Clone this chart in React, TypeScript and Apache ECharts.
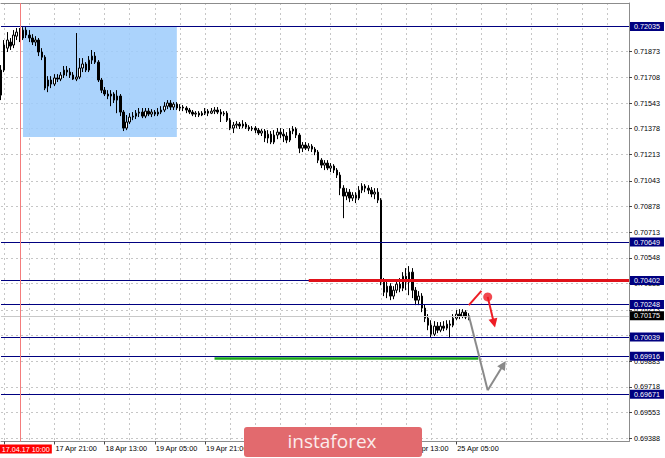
import { useEffect, useRef } from "react";
import * as echarts from "echarts";

// Hourly bars, [open, close, low, high]
const candles: number[][] = [
  [0.71594, 0.71755, 0.71562, 0.71787],
  [0.71755, 0.71916, 0.71742, 0.71948],
  [0.71896, 0.71948, 0.71871, 0.71999],
  [0.71935, 0.71909, 0.71884, 0.71961],
  [0.71916, 0.7198, 0.71896, 0.72012],
  [0.71973, 0.71999, 0.71948, 0.72025],
  [0.71999, 0.71961, 0.71935, 0.72025],
  [0.71961, 0.72012, 0.71948, 0.72031],
  [0.72012, 0.7198, 0.71961, 0.72031],
  [0.7198, 0.71961, 0.71935, 0.72012],
  [0.71961, 0.71935, 0.71916, 0.71986],
  [0.71935, 0.71948, 0.71909, 0.71973],
  [0.71948, 0.71871, 0.71845, 0.71961],
  [0.71871, 0.71838, 0.71819, 0.71896],
  [0.71838, 0.71639, 0.71626, 0.71851],
  [0.71652, 0.71691, 0.71613, 0.71716],
  [0.71691, 0.71665, 0.71639, 0.71716],
  [0.71665, 0.71704, 0.71652, 0.71729],
  [0.71704, 0.71697, 0.71678, 0.71729],
  [0.71697, 0.71723, 0.71684, 0.71742],
  [0.71723, 0.71755, 0.71704, 0.71781],
  [0.71755, 0.71742, 0.71716, 0.71781],
  [0.71742, 0.71723, 0.71704, 0.71768],
  [0.71723, 0.71697, 0.71691, 0.71742],
  [0.71697, 0.7171, 0.71684, 0.71993],
  [0.7171, 0.71768, 0.71697, 0.71832],
  [0.71768, 0.71794, 0.71742, 0.71832],
  [0.71794, 0.71755, 0.71742, 0.71806],
  [0.71755, 0.71819, 0.71742, 0.71845],
  [0.71819, 0.71845, 0.71794, 0.71884],
  [0.71845, 0.71806, 0.71794, 0.71871],
  [0.71806, 0.71691, 0.71678, 0.71819],
  [0.71691, 0.71626, 0.71607, 0.71704],
  [0.71626, 0.71601, 0.71588, 0.71646],
  [0.71601, 0.71588, 0.71568, 0.71626],
  [0.71588, 0.71601, 0.71523, 0.71626],
  [0.71601, 0.71562, 0.71543, 0.71613],
  [0.71562, 0.71588, 0.71478, 0.71626],
  [0.71588, 0.71485, 0.71459, 0.71601],
  [0.71485, 0.71382, 0.71363, 0.71498],
  [0.71382, 0.71421, 0.71369, 0.71466],
  [0.71421, 0.71453, 0.71408, 0.71478],
  [0.71453, 0.71459, 0.71433, 0.71485],
  [0.71459, 0.71478, 0.7144, 0.71498],
  [0.71478, 0.71485, 0.71453, 0.71511],
  [0.71485, 0.71459, 0.71446, 0.71511],
  [0.71459, 0.71491, 0.71446, 0.71511],
  [0.71491, 0.71472, 0.71459, 0.71511],
  [0.71472, 0.71485, 0.71453, 0.71504],
  [0.71485, 0.71472, 0.71459, 0.71498],
  [0.71472, 0.71485, 0.71459, 0.71511],
  [0.71485, 0.71498, 0.71472, 0.71523],
  [0.71498, 0.71523, 0.71485, 0.71549],
  [0.71523, 0.71543, 0.71504, 0.71562],
  [0.71543, 0.71517, 0.71498, 0.71562],
  [0.71517, 0.71536, 0.71498, 0.71549],
  [0.71536, 0.71511, 0.71498, 0.71549],
  [0.71511, 0.71517, 0.71491, 0.71536],
  [0.71517, 0.71511, 0.71491, 0.7153],
  [0.71511, 0.71498, 0.71478, 0.71523],
  [0.71498, 0.71485, 0.71472, 0.71511],
  [0.71485, 0.71472, 0.71459, 0.71498],
  [0.71472, 0.71478, 0.71453, 0.71491],
  [0.71478, 0.71466, 0.71453, 0.71491],
  [0.71466, 0.71478, 0.71459, 0.71491],
  [0.71478, 0.71491, 0.71466, 0.71511],
  [0.71491, 0.71478, 0.71459, 0.71504],
  [0.71478, 0.71491, 0.71472, 0.71511],
  [0.71491, 0.71498, 0.71472, 0.71517],
  [0.71498, 0.71485, 0.71472, 0.71517],
  [0.71485, 0.71472, 0.71421, 0.71504],
  [0.71472, 0.71478, 0.71459, 0.71491],
  [0.71478, 0.71433, 0.71421, 0.71491],
  [0.71433, 0.71382, 0.71369, 0.71446],
  [0.71382, 0.71401, 0.7135, 0.71421],
  [0.71401, 0.71408, 0.71382, 0.71427],
  [0.71408, 0.71395, 0.71376, 0.71421],
  [0.71395, 0.71408, 0.71382, 0.71433],
  [0.71408, 0.71388, 0.71376, 0.71421],
  [0.71388, 0.71376, 0.71363, 0.71401],
  [0.71376, 0.71382, 0.71363, 0.71395],
  [0.71382, 0.71369, 0.7135, 0.71395],
  [0.71369, 0.7135, 0.71337, 0.71382],
  [0.7135, 0.71363, 0.71331, 0.71376],
  [0.71363, 0.71318, 0.71292, 0.71376],
  [0.71318, 0.71343, 0.71285, 0.71369],
  [0.71343, 0.71292, 0.71279, 0.71363],
  [0.71292, 0.71337, 0.71279, 0.71369],
  [0.71337, 0.71356, 0.71311, 0.71382],
  [0.71356, 0.71343, 0.71318, 0.71382],
  [0.71343, 0.71331, 0.71292, 0.71376],
  [0.71331, 0.71305, 0.71285, 0.71356],
  [0.71305, 0.71363, 0.71292, 0.71382],
  [0.71363, 0.71376, 0.71343, 0.71395],
  [0.71376, 0.71337, 0.71318, 0.71388],
  [0.71337, 0.71253, 0.71221, 0.7135],
  [0.71253, 0.71273, 0.71228, 0.71292],
  [0.71273, 0.71253, 0.71241, 0.71292],
  [0.71253, 0.71266, 0.71234, 0.71285],
  [0.71266, 0.71247, 0.71228, 0.71279],
  [0.71247, 0.71228, 0.71208, 0.7126],
  [0.71228, 0.71176, 0.71157, 0.71241],
  [0.71176, 0.71144, 0.71125, 0.71189],
  [0.71144, 0.71157, 0.71112, 0.71176],
  [0.71157, 0.71125, 0.71112, 0.71176],
  [0.71125, 0.71138, 0.71099, 0.71157],
  [0.71138, 0.71112, 0.71093, 0.7115],
  [0.71112, 0.7108, 0.71061, 0.71125],
  [0.7108, 0.70996, 0.70951, 0.71099],
  [0.70996, 0.70945, 0.70803, 0.71015],
  [0.70945, 0.7097, 0.70919, 0.70996],
  [0.7097, 0.70932, 0.70906, 0.7099],
  [0.70932, 0.70951, 0.70913, 0.7097],
  [0.70951, 0.70932, 0.709, 0.7097],
  [0.70932, 0.70983, 0.70919, 0.71009],
  [0.70983, 0.71009, 0.70964, 0.71028],
  [0.71009, 0.70996, 0.7097, 0.71022],
  [0.70996, 0.70983, 0.70958, 0.71015],
  [0.70983, 0.70958, 0.70938, 0.71003],
  [0.70958, 0.7097, 0.70925, 0.70996],
  [0.7097, 0.70919, 0.709, 0.70996],
  [0.70919, 0.70392, 0.70372, 0.70932],
  [0.70392, 0.70327, 0.70302, 0.70418],
  [0.70327, 0.70366, 0.70289, 0.70398],
  [0.70366, 0.70302, 0.70276, 0.70385],
  [0.70302, 0.7034, 0.70282, 0.70366],
  [0.7034, 0.70379, 0.70321, 0.70405],
  [0.70379, 0.70353, 0.70327, 0.70418],
  [0.70353, 0.7043, 0.70334, 0.70456],
  [0.7043, 0.70392, 0.7034, 0.70482],
  [0.70392, 0.70456, 0.70308, 0.70495],
  [0.70456, 0.7034, 0.70289, 0.70482],
  [0.7034, 0.70276, 0.70244, 0.7036],
  [0.70276, 0.70302, 0.70244, 0.70334],
  [0.70302, 0.70225, 0.70199, 0.70321],
  [0.70225, 0.7016, 0.70135, 0.7025],
  [0.7016, 0.70115, 0.70083, 0.70186],
  [0.70115, 0.70057, 0.70038, 0.70147],
  [0.70057, 0.70109, 0.70045, 0.70141],
  [0.70109, 0.70083, 0.70064, 0.70135],
  [0.70083, 0.70109, 0.7007, 0.70135],
  [0.70109, 0.70096, 0.70077, 0.70141],
  [0.70096, 0.70122, 0.70083, 0.70147],
  [0.70122, 0.70115, 0.70032, 0.70147],
  [0.70115, 0.7016, 0.70102, 0.70186],
  [0.7016, 0.70186, 0.70147, 0.70212],
  [0.70186, 0.70173, 0.70154, 0.70218],
  [0.70173, 0.70199, 0.7016, 0.70218],
  [0.70199, 0.70167, 0.70154, 0.70212],
  [0.70167, 0.70175, 0.70147, 0.70192],
];

// Price scale labels on the right-hand axis
const priceTicks = [
  0.69388, 0.69553, 0.69718, 0.69883, 0.70048, 0.70213, 0.70383, 0.70548,
  0.70713, 0.70878, 0.71043, 0.71213, 0.71378, 0.71543, 0.71708, 0.71873,
];

// Horizontal support / resistance levels
const levels = [0.72035, 0.70649, 0.70402, 0.70248, 0.70039, 0.69916, 0.69671];
const bidPrice = 0.70175;
const resistancePrice = 0.70402;
const targetPrice = 0.69905;
const zonePrices = [0.72035, 0.71325];

const MONTHS = ["Jan", "Feb", "Mar", "Apr", "May", "Jun", "Jul", "Aug", "Sep", "Oct", "Nov", "Dec"];
const pad2 = (n: number) => (n < 10 ? "0" : "") + n;

// Trading hours, weekends skipped
function tradingHours(start: number, count: number): string[] {
  const out: string[] = [];
  for (let t = start; out.length < count; t += 3600000) {
    const d = new Date(t);
    const dow = d.getUTCDay();
    if (dow === 0 || dow === 6) continue;
    out.push(`${d.getUTCDate()} ${MONTHS[d.getUTCMonth()]} ${pad2(d.getUTCHours())}:00`);
  }
  return out;
}
const hours = tradingHours(Date.UTC(2017, 3, 17, 4), 201);

// Time labels hidden behind the logo plate
const coveredLabels = ["20 Apr 13:00", "21 Apr 05:00", "21 Apr 21:00"];

const markerHour = hours[6];
const markerLabel = "17.04.17 10:00";
const zoneHours = [hours[7], hours[56]];
const resistanceHours = [hours[98], hours[200]];
const targetHours = [hours[68], hours[152]];
const sellSwing: [string, number][] = [
  [hours[149], 0.70244],
  [hours[153], 0.70336],
];
const sellDot: [string, number] = [hours[155], 0.70297];
const sellArrow: [string, number][] = [
  [hours[155], 0.70297],
  [hours[157], 0.70128],
];
const buyPath: [string, number][] = [
  [hours[149], 0.70175],
  [hours[155], 0.69697],
  [hours[160], 0.69861],
];

const FONT = "'Liberation Sans', Arial, sans-serif";
const NAVY = "#000080";
const FRAME = "#8c8c8c";
const GRID = "#c6c6c6";

export default function App() {
  const ref = useRef<HTMLDivElement>(null);

  useEffect(() => {
    if (!ref.current) return;
    const chart = echarts.init(ref.current, null, { renderer: "svg" });

    const segment = (a: [string, number], b: [string, number], arrow = false) => [
      { coord: a, symbol: "none" },
      { coord: b, symbol: arrow ? "triangle" : "none", symbolSize: 9 },
    ];

    const lastBar = candles.length;
    const showTime = (i: number) => i % 16 === 1 && i < lastBar;

    const option: any = {
      animation: false,
      backgroundColor: "#ffffff",
      textStyle: { fontFamily: FONT },
      grid: { left: 1, right: 36, top: 3, bottom: 16.5, containLabel: false },
      xAxis: [
        {
          type: "category",
          data: hours,
          boundaryGap: false,
          axisLine: { lineStyle: { color: FRAME, width: 1 } },
          axisTick: {
            interval: (i: number) => showTime(i),
            length: 3,
            lineStyle: { color: "#444" },
          },
          axisLabel: {
            interval: (i: number, v: string) => showTime(i) && i > 1 && !coveredLabels.includes(v),
            align: "left",
            margin: 3,
            padding: [0, 0, 0, 1],
            fontSize: 7.3,
            color: "#000",
            fontFamily: FONT,
          },
          splitLine: {
            show: true,
            interval: (i: number) => i % 8 === 1,
            lineStyle: { color: GRID, type: [2, 3], width: 1 },
          },
        },
        {
          type: "category",
          data: hours,
          boundaryGap: false,
          position: "top",
          axisLine: { show: true, lineStyle: { color: FRAME, width: 1 } },
          axisTick: { show: false },
          axisLabel: { show: false },
          splitLine: { show: false },
        },
      ],
      yAxis: {
        type: "value",
        position: "right",
        min: 0.693674,
        max: 0.721861,
        axisLine: { show: true, lineStyle: { color: FRAME, width: 1 } },
        axisTick: { show: true, length: 3, customValues: priceTicks, lineStyle: { color: "#444" } },
        axisLabel: {
          customValues: priceTicks,
          formatter: (v: number) => v.toFixed(5),
          margin: 5,
          fontSize: 7.2,
          color: "#000",
          fontFamily: FONT,
        },
        splitLine: { show: true, lineStyle: { color: GRID, type: [2, 3], width: 1 } },
      },
      series: [
        {
          name: "zone",
          type: "line",
          data: [],
          silent: true,
          markArea: {
            silent: true,
            itemStyle: { color: "#9ccbfb", opacity: 0.85 },
            data: [
              [
                { xAxis: zoneHours[0], yAxis: zonePrices[0] },
                { xAxis: zoneHours[1], yAxis: zonePrices[1] },
              ],
            ],
          },
        },
        {
          name: "price",
          type: "candlestick",
          data: candles,
          barWidth: 2,
          z: 3,
          itemStyle: {
            color: "#ffffff",
            color0: "#000000",
            borderColor: "#000000",
            borderColor0: "#000000",
            borderWidth: 1,
          },
        },
        {
          name: "bid",
          type: "line",
          data: [],
          silent: true,
          markLine: {
            silent: true,
            symbol: "none",
            precision: 5,
            lineStyle: { color: "#c8c8c8", width: 1, type: "solid" },
            label: {
              show: true,
              position: "end",
              distance: 1,
              formatter: (p: any) => Number(p.value).toFixed(5),
              backgroundColor: "#000000",
              color: "#ffffff",
              padding: [1, 4, 1, 4],
              fontSize: 7.2,
              fontFamily: FONT,
            },
            data: [{ yAxis: bidPrice }],
          },
        },
        {
          name: "levels",
          type: "line",
          data: [],
          silent: true,
          markLine: {
            silent: true,
            symbol: "none",
            precision: 5,
            lineStyle: { color: NAVY, width: 1, type: "solid" },
            label: {
              show: true,
              position: "end",
              distance: 1,
              formatter: (p: any) => Number(p.value).toFixed(5),
              backgroundColor: NAVY,
              color: "#ffffff",
              padding: [1, 4, 1, 4],
              fontSize: 7.2,
              fontFamily: FONT,
            },
            data: levels.map((v) => ({ yAxis: v })),
          },
        },
        {
          name: "resistance",
          type: "line",
          data: [],
          silent: true,
          markLine: {
            silent: true,
            symbol: "none",
            precision: 5,
            lineStyle: { color: "#e0121a", width: 3, type: "solid" },
            label: { show: false },
            data: [
              [
                { coord: [resistanceHours[0], resistancePrice] },
                { coord: [resistanceHours[1], resistancePrice] },
              ],
            ],
          },
        },
        {
          name: "target",
          type: "line",
          data: [],
          silent: true,
          markLine: {
            silent: true,
            symbol: "none",
            precision: 5,
            lineStyle: { color: "#1aa81a", width: 2.5, type: "solid" },
            label: { show: false },
            data: [
              [
                { coord: [targetHours[0], targetPrice] },
                { coord: [targetHours[1], targetPrice] },
              ],
            ],
          },
        },
        {
          name: "sell",
          type: "line",
          data: [],
          silent: true,
          markLine: {
            silent: true,
            symbol: "none",
            precision: 5,
            lineStyle: { color: "#ee1c24", width: 2, type: "solid" },
            itemStyle: { color: "#ee1c24" },
            label: { show: false },
            data: [segment(sellSwing[0], sellSwing[1]), segment(sellArrow[0], sellArrow[1], true)],
          },
        },
        {
          name: "sellDot",
          type: "scatter",
          data: [sellDot],
          symbol: "circle",
          symbolSize: 9,
          z: 6,
          silent: true,
          itemStyle: { color: "#ee1c24" },
        },
        {
          name: "buy",
          type: "line",
          data: [],
          silent: true,
          markLine: {
            silent: true,
            symbol: "none",
            precision: 5,
            lineStyle: { color: "#8a8a8a", width: 2, type: "solid" },
            itemStyle: { color: "#8a8a8a" },
            label: { show: false },
            data: [segment(buyPath[0], buyPath[1]), segment(buyPath[1], buyPath[2], true)],
          },
        },
        {
          name: "cursor",
          type: "line",
          data: [],
          silent: true,
          markLine: {
            silent: true,
            symbol: "none",
            lineStyle: { color: "#f47c7c", width: 1, type: "solid" },
            label: {
              show: true,
              position: "start",
              distance: 3,
              offset: [6, 0],
              formatter: markerLabel,
              backgroundColor: "#ff0000",
              color: "#ffffff",
              padding: [1, 2, 1, 2],
              fontSize: 7.2,
              fontFamily: FONT,
            },
            data: [{ xAxis: markerHour }],
          },
        },
      ],
      graphic: [
        {
          type: "rect",
          z: 100,
          zlevel: 0,
          shape: { x: 244, y: 427, width: 178, height: 30, r: 3 },
          style: { fill: "#e26a6e" },
        },
        {
          type: "text",
          z: 101,
          x: 332,
          y: 441,
          style: {
            text: "instaforex",
            fill: "#fbecec",
            font: "19px 'Open Sans', sans-serif",
            textAlign: "center",
            textVerticalAlign: "middle",
          },
        },
      ],
    };

    chart.setOption(option);
    return () => chart.dispose();
  }, []);

  return (
    <div
      ref={ref}
      style={{ position: "fixed", left: 0, top: 0, width: 665, height: 458, background: "#fff" }}
    />
  );
}
